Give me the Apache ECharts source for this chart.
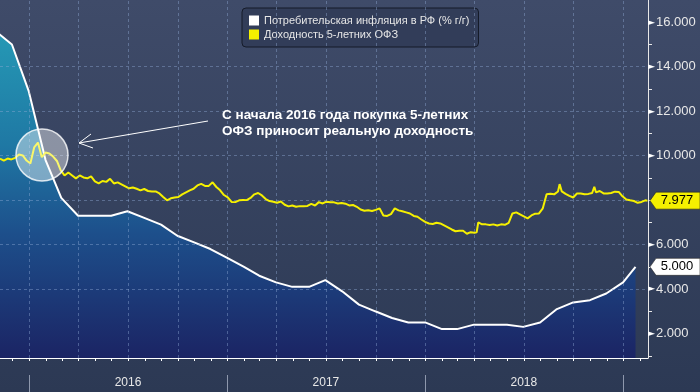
<!DOCTYPE html>
<html><head><meta charset="utf-8">
<script src="https://cdn.jsdelivr.net/npm/echarts@6/dist/echarts.min.js"></script>
<style>html,body{margin:0;padding:0;background:#36425f}#c{width:700px;height:392px}</style>
</head><body><div id="c"></div>
<script>
const inflName = 'Потребительская инфляция в РФ (% г/г)';
const yieldName = 'Доходность 5-летних ОФЗ';
const inflDates = ['2015-10-31','2015-11-30','2015-12-31','2016-01-31','2016-02-29','2016-03-31','2016-04-30','2016-05-31','2016-06-30','2016-07-31','2016-08-31','2016-09-30','2016-10-31','2016-11-30','2016-12-31','2017-01-31','2017-02-28','2017-03-31','2017-04-30','2017-05-31','2017-06-30','2017-07-31','2017-08-31','2017-09-30','2017-10-31','2017-11-30','2017-12-31','2018-01-31','2018-02-28','2018-03-31','2018-04-30','2018-05-31','2018-06-30','2018-07-31','2018-08-31','2018-09-30','2018-10-31','2018-11-30','2018-12-31','2019-01-23'];
const inflValues = [15.6,15.0,12.9,9.8,8.1,7.3,7.3,7.3,7.5,7.2,6.9,6.4,6.1,5.8,5.4,5.0,4.6,4.3,4.1,4.1,4.4,3.9,3.3,3.0,2.7,2.5,2.5,2.2,2.2,2.4,2.4,2.4,2.3,2.5,3.1,3.4,3.5,3.8,4.3,5.0];
const yieldDates = ['2015-11-08','2015-11-15','2015-11-22','2015-11-29','2015-12-06','2015-12-13','2015-12-20','2015-12-27','2016-01-03','2016-01-10','2016-01-17','2016-01-24','2016-01-31','2016-02-07','2016-02-14','2016-02-21','2016-02-28','2016-03-06','2016-03-13','2016-03-20','2016-03-27','2016-04-03','2016-04-10','2016-04-17','2016-04-24','2016-05-01','2016-05-08','2016-05-15','2016-05-22','2016-05-29','2016-06-05','2016-06-12','2016-06-19','2016-06-26','2016-07-03','2016-07-10','2016-07-17','2016-07-24','2016-07-31','2016-08-07','2016-08-14','2016-08-21','2016-08-28','2016-09-04','2016-09-11','2016-09-18','2016-09-25','2016-10-02','2016-10-09','2016-10-16','2016-10-23','2016-10-30','2016-11-06','2016-11-13','2016-11-20','2016-11-27','2016-12-04','2016-12-11','2016-12-18','2016-12-25','2017-01-01','2017-01-08','2017-01-15','2017-01-22','2017-01-29','2017-02-05','2017-02-12','2017-02-19','2017-02-26','2017-03-05','2017-03-12','2017-03-19','2017-03-26','2017-04-02','2017-04-09','2017-04-16','2017-04-23','2017-04-30','2017-05-07','2017-05-14','2017-05-21','2017-05-28','2017-06-04','2017-06-11','2017-06-18','2017-06-25','2017-07-02','2017-07-09','2017-07-16','2017-07-23','2017-07-30','2017-08-06','2017-08-13','2017-08-20','2017-08-27','2017-09-03','2017-09-10','2017-09-17','2017-09-24','2017-10-01','2017-10-08','2017-10-15','2017-10-22','2017-10-29','2017-11-05','2017-11-12','2017-11-19','2017-11-26','2017-12-03','2017-12-10','2017-12-17','2017-12-24','2017-12-31','2018-01-07','2018-01-14','2018-01-21','2018-01-28','2018-02-04','2018-02-11','2018-02-18','2018-02-25','2018-03-04','2018-03-11','2018-03-18','2018-03-25','2018-04-01','2018-04-05','2018-04-08','2018-04-15','2018-04-22','2018-04-29','2018-05-06','2018-05-13','2018-05-20','2018-05-27','2018-06-03','2018-06-10','2018-06-17','2018-06-24','2018-07-01','2018-07-08','2018-07-15','2018-07-22','2018-07-29','2018-08-05','2018-08-12','2018-08-19','2018-08-26','2018-09-02','2018-09-05','2018-09-09','2018-09-16','2018-09-23','2018-09-30','2018-10-07','2018-10-14','2018-10-21','2018-10-28','2018-11-04','2018-11-08','2018-11-11','2018-11-18','2018-11-25','2018-12-02','2018-12-09','2018-12-16','2018-12-23','2018-12-30','2019-01-06','2019-01-13','2019-01-20','2019-01-27','2019-02-03','2019-02-10','2019-02-14'];
const yieldValues = [9.86,9.78,9.87,9.83,9.90,10.05,10.01,9.78,9.65,10.37,10.59,9.93,10.14,10.10,9.96,9.76,9.34,9.11,9.24,9.11,8.98,9.11,9.02,8.98,9.07,8.84,8.75,8.86,8.82,8.96,8.75,8.80,8.71,8.62,8.53,8.57,8.51,8.44,8.50,8.41,8.39,8.39,8.30,8.14,7.99,8.08,8.12,8.14,8.26,8.35,8.44,8.51,8.66,8.73,8.64,8.64,8.80,8.59,8.44,8.23,8.12,7.92,7.91,7.99,8.01,8.00,8.10,8.26,8.32,8.21,8.05,7.96,7.93,7.88,7.94,7.79,7.72,7.76,7.70,7.73,7.72,7.74,7.83,7.76,7.91,7.85,7.93,7.90,7.90,7.85,7.87,7.84,7.76,7.78,7.70,7.58,7.52,7.54,7.51,7.56,7.63,7.31,7.29,7.37,7.63,7.54,7.50,7.45,7.40,7.29,7.25,7.13,7.02,6.95,6.93,6.98,6.95,6.86,6.77,6.68,6.60,6.62,6.62,6.49,6.56,6.53,6.55,7.00,6.91,6.91,6.88,6.91,6.86,6.91,6.89,6.98,7.40,7.45,7.36,7.27,7.18,7.31,7.39,7.40,7.63,8.26,8.29,8.26,8.39,8.72,8.39,8.28,8.19,8.12,8.30,8.30,8.26,8.28,8.32,8.60,8.35,8.41,8.30,8.30,8.32,8.38,8.37,8.17,8.03,7.99,7.96,7.88,7.92,7.99,7.977];
const xMin = '2015-11-08', xMax = '2019-02-15';
const monthTicks = ['2015-12-01','2016-01-01','2016-02-01','2016-03-01','2016-04-01','2016-05-01','2016-06-01','2016-07-01','2016-08-01','2016-09-01','2016-10-01','2016-11-01','2016-12-01','2017-01-01','2017-02-01','2017-03-01','2017-04-01','2017-05-01','2017-06-01','2017-07-01','2017-08-01','2017-09-01','2017-10-01','2017-11-01','2017-12-01','2018-01-01','2018-02-01','2018-03-01','2018-04-01','2018-05-01','2018-06-01','2018-07-01','2018-08-01','2018-09-01','2018-10-01','2018-11-01','2018-12-01','2019-01-01','2019-02-01'];
const quarterLines = ['2016-01-01','2016-04-01','2016-07-01','2016-10-01','2017-01-01','2017-04-01','2017-07-01','2017-10-01','2018-01-01','2018-04-01','2018-07-01','2018-10-01','2019-01-01'];
const yearStarts = ['2016-01-01','2017-01-01','2018-01-01','2019-01-01'];
const yearLabels = ['2016-07-01','2017-07-01','2018-07-01'];
const yMinorTicks = [1,2,3,4,5,6,7,8,9,10,11,12,13,14,15,16];
const yLabelTicks = [2,4,6,8,10,12,14,16];

const ts = s => Date.UTC(+s.slice(0,4), +s.slice(5,7)-1, +s.slice(8,10));
const chart = echarts.init(document.getElementById('c'), null, {renderer:'canvas'});
const gridColor = 'rgba(145,172,215,0.42)';
const gridLine = {show:true, lineStyle:{color:gridColor, type:[3,3], width:1}};
const lastY = yieldValues[yieldValues.length-1];
const lastI = inflValues[inflValues.length-1];
const tagPath = 'path://M0,8.5 L6,0 L50,0 L50,17 L6,17 Z';
const X0 = ts(xMin), X1 = ts(xMax);
chart.setOption({
  animation:false,
  backgroundColor:{type:'linear',x:0,y:0,x2:0,y2:1,colorStops:[{offset:0,color:'#3f4b69'},{offset:1,color:'#2c3954'}]},
  grid:{left:0,right:52,top:0,bottom:34,containLabel:false},
  legend:{
    left:242, top:8, orient:'vertical', icon:'rect', itemWidth:10, itemHeight:10, itemGap:3,
    padding:[7,9,7,7], backgroundColor:'#323d59', borderColor:'#151b29', borderWidth:1, borderRadius:4,
    textStyle:{color:'#e6e6e6', fontSize:11, fontFamily:'Liberation Sans'},
    data:[inflName, yieldName]
  },
  xAxis:[
    {type:'value', min:X0, max:X1, position:'bottom',
     axisLine:{show:true,lineStyle:{color:'#ffffff',width:1}},
     axisTick:{show:true,length:3,customValues:monthTicks.map(ts),lineStyle:{color:'#ffffff'}},
     axisLabel:{show:false}, splitLine:{show:false}},
    {type:'value', min:X0, max:X1, position:'bottom', offset:17,
     axisLine:{show:false},
     axisTick:{show:true,length:17,customValues:yearStarts.map(ts),lineStyle:{color:'#8e98ad',width:1}},
     axisLabel:{show:true,customValues:yearLabels.map(ts),margin:2,color:'#e8e8e8',fontSize:12,fontFamily:'Liberation Sans',
       formatter:v=>String(new Date(v).getUTCFullYear())},
     splitLine:{show:false}}
  ],
  yAxis:[
    {type:'value', min:0.9, max:17, splitNumber:8, position:'right',
     axisLine:{show:true,lineStyle:{color:'#e8e8e8',width:1}},
     axisTick:{show:true,length:4,customValues:yMinorTicks,lineStyle:{color:'#e8e8e8'}},
     axisLabel:{show:true,customValues:yLabelTicks,margin:0,
       formatter:v=>(Math.abs(v-Math.round(v))<1e-6 && Math.round(v)%2===0 && v!==8) ? '{t|►}{v|'+v.toFixed(3)+'}' : '',
       rich:{t:{color:'#ffffff',fontSize:9,fontFamily:'DejaVu Sans',padding:[0,1,0,0]},v:{color:'#e8e8e8',fontSize:13,fontFamily:'Liberation Sans'}}},
     splitLine:{show:false}},
    {type:'value', min:0.9, max:17, splitNumber:8, position:'right', z:3,
     axisLine:{show:false}, axisTick:{show:false,customValues:yLabelTicks}, axisLabel:{show:false},
     splitLine:Object.assign({showMinLine:false,showMaxLine:false},gridLine)}
  ],
  series:[
    {name:inflName, type:'line', xAxisIndex:0, yAxisIndex:0, z:2,
     data:inflDates.map((d,i)=>[ts(d),inflValues[i]]), showSymbol:false, symbol:'none', clip:true,
     itemStyle:{color:'#ffffff'}, lineStyle:{color:'#ffffff',width:2},
     areaStyle:{origin:'start',opacity:1,color:{type:'linear',x:0,y:0,x2:0,y2:1,colorStops:[
       {offset:0,color:'#2599b5'},{offset:0.35,color:'#1f78a4'},{offset:0.62,color:'#1d4f8b'},{offset:1,color:'#1b2464'}]}},
     markLine:{silent:true, symbol:['none','none'], animation:false, label:{show:false},
       lineStyle:{color:gridColor, type:[3,3], width:1},
       data:quarterLines.map(d=>({xAxis:ts(d)}))},
     markPoint:{symbol:tagPath, symbolSize:[50,17], symbolOffset:[27,0], silent:true,
       itemStyle:{color:'#ffffff',borderColor:'#222',borderWidth:0.5},
       label:{show:true,color:'#000',fontSize:13,fontFamily:'Liberation Sans',offset:[2,0],formatter:p=>p.value.toFixed(3)},
       data:[{coord:[X1,lastI], value:lastI}]}},
    {name:yieldName, type:'line', xAxisIndex:0, yAxisIndex:0, z:4,
     data:yieldDates.map((d,i)=>[ts(d),yieldValues[i]]), showSymbol:false, symbol:'none', clip:true,
     itemStyle:{color:'#f5f000'}, lineStyle:{color:'#f5f000',width:2},
     markPoint:{symbol:tagPath, symbolSize:[50,17], symbolOffset:[27,0], silent:true,
       itemStyle:{color:'#f5f000',borderColor:'#222',borderWidth:0.5},
       label:{show:true,color:'#000',fontSize:13,fontFamily:'Liberation Sans',offset:[2,0],formatter:p=>p.value.toFixed(3)},
       data:[{coord:[X1,lastY], value:lastY}]}}
  ],
  graphic:[
    {type:'circle', z:100, shape:{cx:42,cy:155,r:26}, style:{fill:'rgba(255,255,255,0.42)',stroke:'rgba(255,255,255,0.8)',lineWidth:1.5}},
    {type:'polyline', z:100, shape:{points:[[208,121],[79,143]]}, style:{stroke:'#ffffff',lineWidth:1,fill:null}},
    {type:'polyline', z:100, shape:{points:[[91,134],[79,143],[93,148]]}, style:{stroke:'#ffffff',lineWidth:1,fill:null}},
    {type:'text', z:100, left:222, top:107, style:{text:'С начала 2016 года покупка 5-летних\nОФЗ приносит реальную доходность',
      fill:'#ffffff', font:'bold 13.5px "Liberation Sans"', lineHeight:16}}
  ]
});
</script></body></html>
